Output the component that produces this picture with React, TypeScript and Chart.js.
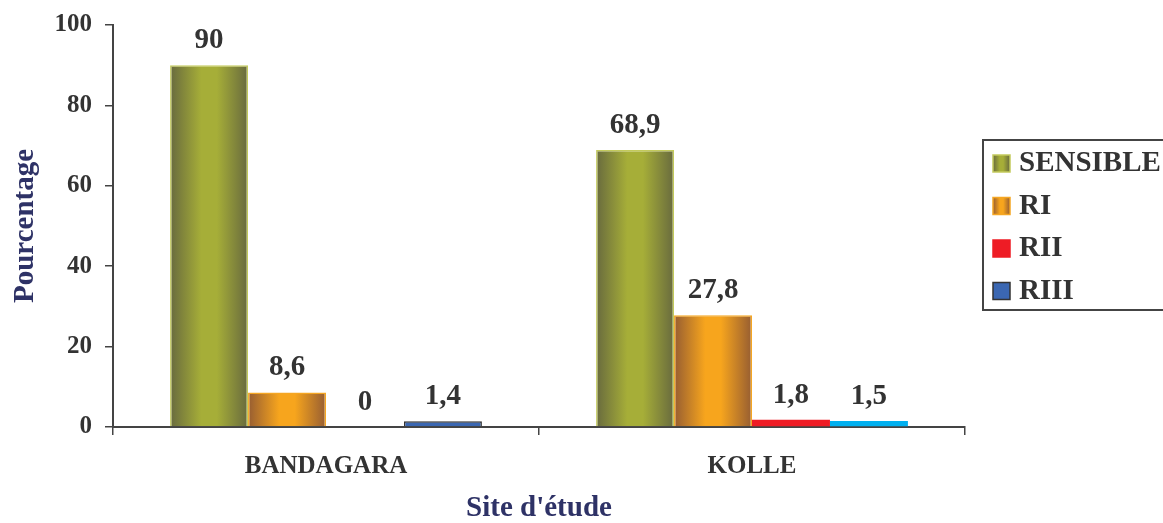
import React, { useEffect, useRef } from "react";
import { Chart, registerables } from "chart.js";

Chart.register(...registerables);

const sites = ["BANDAGARA", "KOLLE"];
const seriesNames = ["SENSIBLE", "RI", "RII", "RIII"];
const sensible = [90, 68.9];
const ri = [8.6, 27.8];
const rii = [0, 1.8];
const riii = [1.4, 1.5];
const yTicks = [0, 20, 40, 60, 80, 100];

const FONT = "'Liberation Serif', 'Times New Roman', serif";
const TEXT = "#333333";
const NAVY = "#2e3266";
const CAT_PCT = 0.732;

// edge / centre colours for the cylinder-like horizontal gradients
const shades: Record<string, [string, string] | null> = {
  SENSIBLE: ["#686a3e", "#a6ae38"],
  RI: ["#965d32", "#f7a51d"],
  RII: null,
  RIII: null,
};

function barLeftWidth(chart: any, datasetIndex: number, index: number) {
  const xs = chart.scales.x;
  const n = chart.data.datasets.length;
  const slot = xs.width / chart.data.labels.length;
  const group = slot * CAT_PCT;
  const w = group / n;
  const center = xs.getPixelForValue(index);
  return { left: center - group / 2 + datasetIndex * w, width: w };
}

function gradientFill(name: string, solid: string) {
  return (ctx: any) => {
    const pair = shades[name];
    const chart = ctx.chart;
    if (!pair || !chart.chartArea || ctx.type !== "data") return solid;
    const { left, width } = barLeftWidth(chart, ctx.datasetIndex, ctx.dataIndex);
    const g = chart.ctx.createLinearGradient(left, 0, left + width, 0);
    g.addColorStop(0, pair[0]);
    g.addColorStop(0.4, pair[1]);
    g.addColorStop(0.6, pair[1]);
    g.addColorStop(1, pair[0]);
    return g;
  };
}

const fmt = (v: number) => String(v).replace(".", ",");

const valueLabels = {
  id: "valueLabels",
  afterDatasetsDraw(chart: any) {
    const c = chart.ctx;
    c.save();
    c.font = `bold 29px ${FONT}`;
    c.fillStyle = TEXT;
    c.textAlign = "center";
    c.textBaseline = "alphabetic";
    chart.data.datasets.forEach((ds: any, di: number) => {
      const meta = chart.getDatasetMeta(di);
      meta.data.forEach((bar: any, i: number) => {
        c.fillText(fmt(ds.data[i]), bar.x, bar.y - 17);
      });
    });
    c.restore();
  },
};

const boxLegend = {
  id: "boxLegend",
  afterDraw(chart: any) {
    const c = chart.ctx;
    const x0 = 983;
    const y0 = 140;
    c.save();
    c.strokeStyle = "#444444";
    c.lineWidth = 2;
    c.strokeRect(x0, y0, 200, 170);
    const swatches = [
      { fill: shades.SENSIBLE, solid: "#a6ae38", border: "#c3ca5c" },
      { fill: shades.RI, solid: "#f7a51d", border: "#f5a623" },
      { fill: null, solid: "#ee1c25", border: "#ee1c25" },
      { fill: null, solid: "#3b67b2", border: "#333333" },
    ];
    c.font = `bold 29px ${FONT}`;
    c.textBaseline = "middle";
    c.textAlign = "left";
    seriesNames.forEach((name, k) => {
      const cy = y0 + 23 + k * 42.5;
      const sx = x0 + 10;
      const sy = cy - 8;
      const s = swatches[k];
      if (s.fill) {
        const g = c.createLinearGradient(sx, 0, sx + 17, 0);
        g.addColorStop(0, s.fill[0]);
        g.addColorStop(0.4, s.fill[1]);
        g.addColorStop(0.6, s.fill[1]);
        g.addColorStop(1, s.fill[0]);
        c.fillStyle = g;
      } else {
        c.fillStyle = s.solid;
      }
      c.fillRect(sx, sy, 17, 17);
      c.strokeStyle = s.border;
      c.lineWidth = 1.5;
      c.strokeRect(sx, sy, 17, 17);
      c.fillStyle = TEXT;
      c.fillText(name, x0 + 36, cy + 1);
    });
    c.restore();
  },
};

export default function App() {
  const ref = useRef<HTMLCanvasElement | null>(null);

  useEffect(() => {
    document.body.style.margin = "0";
    const canvas = ref.current;
    if (!canvas) return;
    const chart = new Chart(canvas, {
      type: "bar",
      data: {
        labels: sites,
        datasets: [
          {
            label: seriesNames[0],
            data: sensible,
            backgroundColor: gradientFill("SENSIBLE", "#a6ae38"),
            borderColor: "#c3ca5c",
            borderWidth: 1.5,
          },
          {
            label: seriesNames[1],
            data: ri,
            backgroundColor: gradientFill("RI", "#f7a51d"),
            borderColor: "#f5a623",
            borderWidth: 1.5,
          },
          {
            label: seriesNames[2],
            data: rii,
            backgroundColor: "#ee1c25",
            borderColor: "#ee1c25",
            borderWidth: 0,
          },
          {
            label: seriesNames[3],
            data: riii,
            backgroundColor: ["#3b67b2", "#00b0f0"],
            borderColor: ["#333333", "#00b0f0"],
            borderWidth: [1.5, 0],
          },
        ],
      },
      options: {
        responsive: false,
        animation: false,
        layout: { padding: { left: 0, right: 198, top: 25, bottom: 0 } },
        datasets: {
          bar: { categoryPercentage: CAT_PCT, barPercentage: 1 },
        },
        plugins: {
          legend: { display: false },
          tooltip: { enabled: false },
        },
        scales: {
          x: {
            grid: {
              drawOnChartArea: false,
              offset: true,
              tickLength: 8,
              color: "#444444",
              lineWidth: 1.5,
            },
            border: { color: "#444444", width: 2 },
            ticks: {
              color: TEXT,
              font: { family: FONT, size: 25, weight: "bold" },
              padding: 17,
            },
            title: {
              display: true,
              text: "Site d'étude",
              color: NAVY,
              font: { family: FONT, size: 29, weight: "bold" },
              padding: { top: 10, bottom: -3 },
            },
            afterFit(scale: any) {
              scale.height = 96;
              scale.paddingLeft = 0;
              scale.paddingRight = 0;
            },
          },
          y: {
            min: 0,
            max: 100,
            afterBuildTicks(scale: any) {
              scale.ticks = yTicks.map((v) => ({ value: v }));
            },
            grid: {
              drawOnChartArea: false,
              tickLength: 8,
              color: "#444444",
              lineWidth: 1.5,
            },
            border: { color: "#444444", width: 2 },
            ticks: {
              color: TEXT,
              font: { family: FONT, size: 25, weight: "bold" },
              padding: 13,
            },
            title: {
              display: true,
              text: "Pourcentage",
              color: NAVY,
              font: { family: FONT, size: 29, weight: "bold" },
              padding: { top: 8, bottom: 8 },
            },
            afterFit(scale: any) {
              scale.width = 113;
              scale.paddingTop = 0;
              scale.paddingBottom = 0;
            },
          },
        },
      },
      plugins: [valueLabels, boxLegend],
    });
    return () => chart.destroy();
  }, []);

  return (
    <div style={{ width: 1163, height: 523, background: "#ffffff" }}>
      <canvas ref={ref} width={1163} height={523} style={{ display: "block" }} />
    </div>
  );
}
